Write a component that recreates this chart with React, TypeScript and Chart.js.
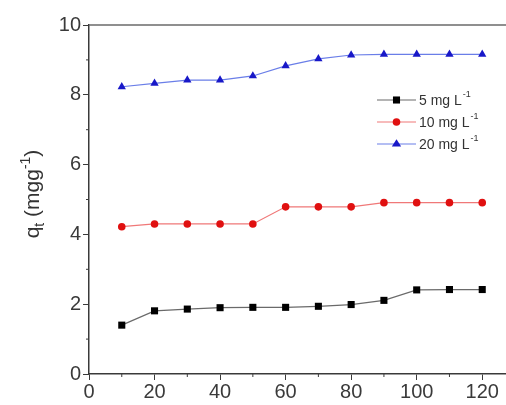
import React, { useEffect, useRef } from "react";
import { Chart, registerables } from "chart.js";
Chart.register(...registerables);

const times = [10, 20, 30, 40, 50, 60, 70, 80, 90, 100, 110, 120];
const series5 = [1.4, 1.81, 1.86, 1.9, 1.91, 1.91, 1.94, 1.99, 2.11, 2.41, 2.42, 2.42];
const series10 = [4.22, 4.3, 4.3, 4.3, 4.3, 4.79, 4.79, 4.79, 4.91, 4.91, 4.91, 4.91];
const series20 = [8.23, 8.33, 8.42, 8.42, 8.54, 8.83, 9.03, 9.14, 9.16, 9.16, 9.16, 9.16];
const seriesNames = ["5 mg L", "10 mg L", "20 mg L"];
const unitSup = "-1";
const xTicks = [0, 20, 40, 60, 80, 100, 120];
const xMinor = [10, 30, 50, 70, 90, 110, 130];
const yTicks = [0, 2, 4, 6, 8, 10];
const yMinor = [1, 3, 5, 7, 9];

const AXIS = "#3a3a3a";
const FONT = "'Liberation Sans', Arial, sans-serif";

const styles = [
  { marker: "rect", fill: "#000000", line: "#6a6a6a", radius: 5 },
  { marker: "circle", fill: "#e01010", line: "#f07878", radius: 3.8 },
  { marker: "triangle", fill: "#1818c8", line: "#6a7ee8", radius: 4.8 },
];

function drawMarker(ctx: CanvasRenderingContext2D, kind: string, x: number, y: number, r: number, color: string) {
  ctx.save();
  ctx.fillStyle = color;
  ctx.beginPath();
  if (kind === "rect") {
    const s = r * Math.SQRT1_2;
    ctx.rect(x - s, y - s, 2 * s, 2 * s);
  } else if (kind === "circle") {
    ctx.arc(x, y, r, 0, Math.PI * 2);
  } else {
    const h = (r * 3) / Math.sqrt(3);
    ctx.moveTo(x, y - r);
    ctx.lineTo(x + h / 2 + 0.5, y + r / 2);
    ctx.lineTo(x - h / 2 - 0.5, y + r / 2);
    ctx.closePath();
  }
  ctx.fill();
  ctx.restore();
}

const decorPlugin = {
  id: "decor",
  afterDraw(chart: any) {
    const ctx: CanvasRenderingContext2D = chart.ctx;
    const { left, top, bottom } = chart.chartArea;
    const xs = chart.scales.x;
    const ys = chart.scales.y;
    ctx.save();
    ctx.strokeStyle = "#6a6a6a";
    ctx.lineWidth = 1.5;
    // top border
    ctx.beginPath();
    ctx.moveTo(left, top);
    ctx.lineTo(chart.width, top);
    ctx.stroke();
    ctx.strokeStyle = AXIS;
    ctx.lineWidth = 1;
    // minor ticks
    for (const v of yMinor) {
      const py = ys.getPixelForValue(v);
      ctx.beginPath();
      ctx.moveTo(left, py);
      ctx.lineTo(left - 3, py);
      ctx.stroke();
    }
    for (const v of xMinor) {
      const px = xs.getPixelForValue(v);
      ctx.beginPath();
      ctx.moveTo(px, bottom);
      ctx.lineTo(px, bottom + 3);
      ctx.stroke();
    }
    // y title
    ctx.save();
    ctx.translate(33, 194);
    ctx.rotate(-Math.PI / 2);
    ctx.fillStyle = "#333";
    ctx.textBaseline = "alphabetic";
    const parts = [
      { t: "q", size: 21, dy: 0 },
      { t: "t", size: 14, dy: 5 },
      { t: " (mgg", size: 21, dy: 0 },
      { t: "-1", size: 14, dy: -9 },
      { t: ")", size: 21, dy: 0 },
    ];
    let total = 0;
    for (const p of parts) {
      ctx.font = `${p.size}px ${FONT}`;
      total += ctx.measureText(p.t).width;
    }
    let cx = -total / 2;
    for (const p of parts) {
      ctx.font = `${p.size}px ${FONT}`;
      ctx.fillText(p.t, cx, 6 + p.dy);
      cx += ctx.measureText(p.t).width;
    }
    ctx.restore();
    // legend
    const lx0 = 377;
    const lx1 = 416;
    chart.data.datasets.forEach((ds: any, i: number) => {
      const st = styles[i];
      const y = 100 + i * 22;
      ctx.strokeStyle = st.line;
      ctx.lineWidth = 1.2;
      ctx.beginPath();
      ctx.moveTo(lx0, y);
      ctx.lineTo(lx1, y);
      ctx.stroke();
      drawMarker(ctx, st.marker, (lx0 + lx1) / 2, y, st.radius, st.fill);
      ctx.fillStyle = "#333";
      ctx.textBaseline = "middle";
      ctx.font = `14px ${FONT}`;
      ctx.fillText(ds.label, lx1 + 3, y + 1);
      const w = ctx.measureText(ds.label).width;
      ctx.font = `9px ${FONT}`;
      ctx.fillText(unitSup, lx1 + 3 + w + 1, y - 5);
    });
    ctx.restore();
  },
};

export default function App() {
  const ref = useRef<HTMLCanvasElement | null>(null);
  useEffect(() => {
    if (!ref.current) return;
    const seriesList = [series5, series10, series20];
    const chart = new Chart(ref.current, {
      type: "line",
      data: {
        datasets: seriesList.map((s, i) => ({
          label: seriesNames[i],
          data: times.map((t, j) => ({ x: t, y: s[j] })),
          borderColor: styles[i].line,
          borderWidth: 1.2,
          backgroundColor: styles[i].fill,
          pointBackgroundColor: styles[i].fill,
          pointBorderWidth: 0,
          pointStyle: styles[i].marker as any,
          pointRadius: styles[i].radius,
          tension: 0,
          fill: false,
        })),
      },
      options: {
        responsive: false,
        animation: false,
        layout: { padding: { top: 25, right: 5, left: 0, bottom: 0 } },
        plugins: { legend: { display: false }, tooltip: { enabled: false } },
        scales: {
          x: {
            type: "linear",
            min: 0,
            max: 130,
            afterBuildTicks: (scale: any) => {
              scale.ticks = xTicks.map((v) => ({ value: v }));
            },
            afterFit: (scale: any) => {
              scale.height = 46;
            },
            border: { color: AXIS, width: 1.5 },
            grid: { drawOnChartArea: false, drawTicks: true, tickLength: 6, color: AXIS, lineWidth: 1 },
            ticks: { color: "#3a3a3a", font: { family: FONT, size: 20 }, padding: 0, maxRotation: 0 },
          },
          y: {
            type: "linear",
            min: 0,
            max: 10,
            afterBuildTicks: (scale: any) => {
              scale.ticks = yTicks.map((v) => ({ value: v }));
            },
            afterFit: (scale: any) => {
              scale.width = 89;
            },
            border: { color: AXIS, width: 1.5 },
            grid: { drawOnChartArea: false, drawTicks: true, tickLength: 6, color: AXIS, lineWidth: 1 },
            ticks: { color: "#3a3a3a", font: { family: FONT, size: 20 }, padding: 2 },
          },
        },
      },
      plugins: [decorPlugin],
    } as any);
    return () => chart.destroy();
  }, []);
  return (
    <div style={{ position: "fixed", left: 0, top: 0, width: 520, height: 420, background: "#fff" }}>
      <canvas ref={ref} width={520} height={420} />
    </div>
  );
}
